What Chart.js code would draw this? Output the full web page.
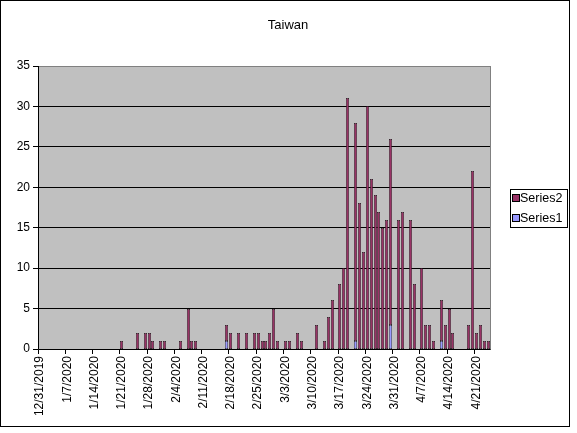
<!DOCTYPE html>
<html>
<head>
<meta charset="utf-8">
<script src="https://cdn.jsdelivr.net/npm/chart.js@4.4.1/dist/chart.umd.min.js"></script>
<style>
  html, body { margin: 0; padding: 0; background: #fff; }
  #wrap { width: 577px; height: 433px; }
</style>
</head>
<body>
<div id="wrap"><canvas id="chart" width="577" height="433"></canvas></div>
<script>
// ------------------------------------------------------------
// Taiwan — daily cases, 12/31/2019 .. 4/24/2020 (Excel-style stacked columns)
// ------------------------------------------------------------

const START_DATE = new Date(2019, 11, 31);
const DAY_COUNT = 116;
const TITLE = 'Taiwan';

// labelled ticks on the date axis (every 7 days)
const tickLabels = [
    '12/31/2019', '1/7/2020', '1/14/2020', '1/21/2020', '1/28/2020', '2/4/2020',
    '2/11/2020', '2/18/2020', '2/25/2020', '3/3/2020', '3/10/2020', '3/17/2020',
    '3/24/2020', '3/31/2020', '4/7/2020', '4/14/2020', '4/21/2020',
];

// Series1 (bottom of stack), one value per day
const series1 = [
    0, 0, 0, 0, 0, 0, 0, 0, 0, 0,
    0, 0, 0, 0, 0, 0, 0, 0, 0, 0,
    0, 0, 0, 0, 0, 0, 0, 0, 0, 0,
    0, 0, 0, 0, 0, 0, 0, 0, 0, 0,
    0, 0, 0, 0, 0, 0, 0, 0, 1, 0,
    0, 0, 0, 0, 0, 0, 0, 0, 0, 0,
    0, 0, 0, 0, 0, 0, 0, 0, 0, 0,
    0, 0, 0, 0, 0, 0, 0, 0, 0, 0,
    0, 1, 0, 0, 0, 0, 0, 0, 0, 0,
    3, 0, 0, 0, 0, 0, 0, 0, 0, 0,
    0, 0, 0, 1, 0, 0, 0, 0, 0, 0,
    0, 0, 0, 0, 0, 0,
];

// Series2 (stacked on top), one value per day
const series2 = [
    0, 0, 0, 0, 0, 0, 0, 0, 0, 0,
    0, 0, 0, 0, 0, 0, 0, 0, 0, 0,
    0, 1, 0, 0, 0, 2, 0, 2, 2, 1,
    0, 1, 1, 0, 0, 0, 1, 0, 5, 1,
    1, 0, 0, 0, 0, 0, 0, 0, 2, 2,
    0, 2, 0, 2, 0, 2, 2, 1, 1, 2,
    5, 1, 0, 1, 1, 0, 2, 1, 0, 0,
    0, 3, 0, 1, 4, 6, 0, 8, 10, 31,
    0, 27, 18, 12, 30, 21, 19, 17, 15, 16,
    23, 0, 16, 17, 0, 16, 8, 0, 10, 3,
    3, 1, 0, 5, 3, 5, 2, 0, 0, 0,
    3, 22, 2, 3, 1, 1,
];

const yTicks = [0, 5, 10, 15, 20, 25, 30, 35];

// categories: consecutive days as m/d/yyyy
const categories = [];
for (let i = 0; i < DAY_COUNT; i++) {
    const d = new Date(START_DATE.getFullYear(), START_DATE.getMonth(), START_DATE.getDate() + i);
    categories.push((d.getMonth() + 1) + '/' + d.getDate() + '/' + d.getFullYear());
}

const FONT = "'Liberation Sans', Arial, sans-serif";
const COLORS = {
    series1: '#9999FF',
    series2: '#993366',
    plot: '#C0C0C0',
    border: '#000000',
};

/**
 * Snap bar edges to whole pixels so the thin columns stay crisp
 */
const crispBars = {
    id: 'crispBars',
    beforeDatasetsDraw(chart) {
        chart.getSortedVisibleDatasetMetas().forEach(meta => {
            meta.data.forEach(el => {
                const l = Math.round(el.x - el.width / 2);
                el.x = l + 1.5;
                el.width = 3;
                el.y = Math.round(el.y);
                el.base = Math.round(el.base);
            });
        });
    },
};

/**
 * Gray plot area, plot border, title, outer frame and the legend box
 */
const excelLook = {
    id: 'excelLook',
    beforeDraw(chart) {
        const { ctx, chartArea: a } = chart;
        ctx.save();
        ctx.fillStyle = '#ffffff';
        ctx.fillRect(0, 0, chart.width, chart.height);
        ctx.fillStyle = COLORS.plot;
        ctx.fillRect(a.left, a.top, a.right - a.left, a.bottom - a.top);
        ctx.restore();
    },
    afterDraw(chart) {
        const { ctx, chartArea: a } = chart;
        ctx.save();
        ctx.lineWidth = 1;
        ctx.strokeStyle = '#808080';
        ctx.strokeRect(Math.round(a.left) + 0.5, Math.round(a.top) + 0.5,
            Math.round(a.right - a.left), Math.round(a.bottom - a.top));
        ctx.strokeStyle = '#000';
        ctx.beginPath();
        ctx.moveTo(Math.round(a.left) + 0.5, Math.round(a.top));
        ctx.lineTo(Math.round(a.left) + 0.5, Math.round(a.bottom) + 0.5);
        ctx.lineTo(Math.round(a.right) + 0.5, Math.round(a.bottom) + 0.5);
        ctx.stroke();

        // outer chart frame
        ctx.strokeRect(0.5, 0.5, 569, 426);

        // title, centred on the whole chart like Excel
        ctx.fillStyle = '#000';
        ctx.font = '13px ' + FONT;
        ctx.textAlign = 'center';
        ctx.textBaseline = 'middle';
        ctx.fillText(TITLE, 288, 25);

        // legend (reverse order, like Excel for stacked columns)
        const lx = 510, ly = 189, lw = 57, lh = 38;
        ctx.fillStyle = '#fff';
        ctx.fillRect(lx, ly, lw, lh);
        ctx.strokeRect(lx + 0.5, ly + 0.5, lw, lh);
        ctx.font = '12.5px ' + FONT;
        ctx.textBaseline = 'middle';
        ctx.textAlign = 'left';
        const items = chart.data.datasets.slice().reverse();
        items.forEach((ds, i) => {
            const cy = ly + 9 + i * 20;
            ctx.fillStyle = ds.backgroundColor;
            ctx.fillRect(lx + 3, cy - 3, 6, 6);
            ctx.strokeStyle = '#000';
            ctx.strokeRect(lx + 2.5, cy - 3.5, 7, 7);
            ctx.fillStyle = '#000';
            ctx.fillText(ds.label, lx + 10, cy + 1);
        });
        ctx.restore();
    },
};

const ctx = document.getElementById('chart').getContext('2d');

new Chart(ctx, {
    type: 'bar',
    data: {
        labels: categories,
        datasets: [
            {
                label: 'Series1',
                data: series1.map(v => (v ? v : null)),
                backgroundColor: COLORS.series1,
                borderColor: COLORS.border,
                borderWidth: 0.6,
                inflateAmount: 0,
                borderSkipped: false,
            },
            {
                label: 'Series2',
                data: series2.map(v => (v ? v : null)),
                backgroundColor: COLORS.series2,
                borderColor: COLORS.border,
                borderWidth: 0.6,
                inflateAmount: 0,
                borderSkipped: false,
            },
        ],
    },
    options: {
        responsive: false,
        devicePixelRatio: 1,
        animation: false,
        categoryPercentage: 1.0,
        barPercentage: 0.77,
        layout: { padding: { left: 0, right: 87, top: 66, bottom: 0 } },
        plugins: {
            legend: { display: false },
            tooltip: { enabled: false },
            title: { display: false },
        },
        scales: {
            x: {
                stacked: true,
                grid: {
                    drawOnChartArea: false,
                    drawTicks: true,
                    tickLength: 5,
                    tickColor: c => (tickLabels.includes(categories[c.index]) ? '#000' : 'rgba(0,0,0,0)'),
                },
                border: { color: '#000' },
                ticks: {
                    autoSkip: false,
                    maxRotation: 90,
                    minRotation: 90,
                    color: '#000',
                    padding: 2,
                    font: { family: FONT, size: 12 },
                    callback: (v, i) => (tickLabels.includes(categories[i]) ? categories[i] : ''),
                },
                afterFit: scale => { scale.height = 84; },
            },
            y: {
                stacked: true,
                min: 0,
                max: 35,
                afterBuildTicks: scale => { scale.ticks = yTicks.map(v => ({ value: v })); },
                grid: { color: '#000', tickLength: 5, tickColor: '#000' },
                border: { color: '#000' },
                ticks: {
                    color: '#000',
                    padding: 3,
                    font: { family: FONT, size: 12 },
                },
                afterFit: scale => { scale.width = 38; },
            },
        },
    },
    plugins: [crispBars, excelLook],
});
</script>
</body>
</html>
